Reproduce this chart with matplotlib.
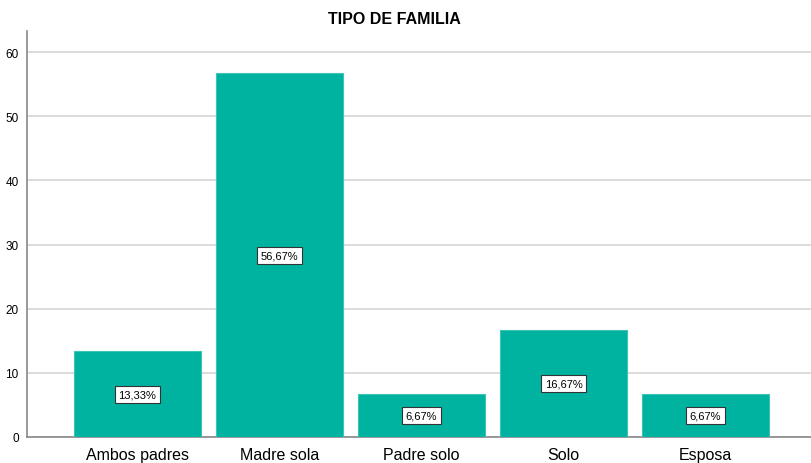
import matplotlib
matplotlib.use("Agg")
import matplotlib.pyplot as plt

categories = ["Ambos padres", "Madre sola", "Padre solo", "Solo", "Esposa"]
values = [13.33, 56.67, 6.67, 16.67, 6.67]
labels = ["13,33%", "56,67%", "6,67%", "16,67%", "6,67%"]
yticks = [0, 10, 20, 30, 40, 50, 60]
title = "TIPO DE FAMILIA"

plt.rcParams['font.family'] = ['Liberation Sans', 'DejaVu Sans']

fig = plt.figure(figsize=(8.11, 4.64), dpi=100)
ax = fig.add_axes([27/811, 1-438/464, 1-27/811, (438-32)/464])

x = list(range(len(categories)))
ax.bar(x, values, width=0.894, color="#00B2A0", edgecolor="#3cc4b4", linewidth=0.8, zorder=3)
for xi, v, lab in zip(x, values, labels):
    ax.text(xi, v/2, lab, ha="center", va="center", fontsize=8, zorder=5,
            bbox=dict(boxstyle="square,pad=0.3", facecolor="white", edgecolor="#333333", linewidth=0.8))

ax.set_xlim(-110.5/142, (811-137.5)/142)
ax.set_ylim(0, (438-32)/((438-53)/60))
ax.set_yticks(yticks)
ax.set_xticks(x)
ax.set_xticklabels(categories, fontsize=11.5)
ax.tick_params(axis="y", labelsize=8.5, length=0, pad=6)
ax.tick_params(axis="x", length=0, pad=7.5)
ax.grid(axis="y", color="#d9d9d9", linewidth=1.3, zorder=0)
ax.set_axisbelow(True)
for s in ["top", "right"]:
    ax.spines[s].set_visible(False)
ax.spines["left"].set_color("#888888")
ax.spines["bottom"].set_color("#888888")
ax.spines["left"].set_linewidth(1.2)
ax.spines["bottom"].set_linewidth(1.2)

fig.text(394/811, 1-20/464, title, ha="center", va="center", fontsize=11.5, fontweight="bold")

fig.savefig("out.png", dpi=100)
